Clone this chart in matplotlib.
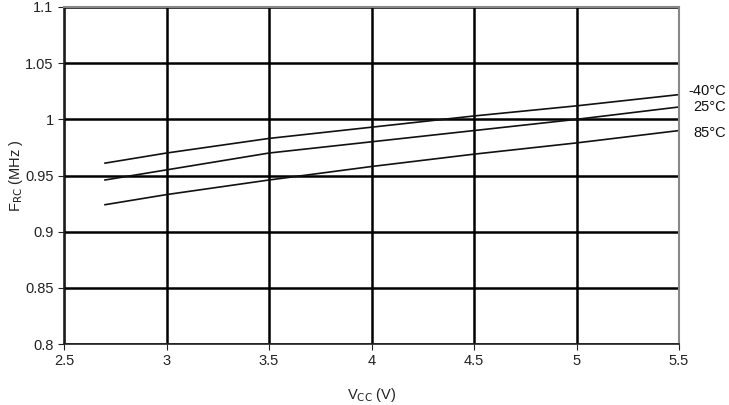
import matplotlib
matplotlib.use("Agg")
import matplotlib.pyplot as plt

plt.rcParams['font.family'] = ['Liberation Sans', 'DejaVu Sans']

vcc = [2.7, 3.0, 3.5, 4.0, 4.5, 5.0, 5.5]
f_m40 = [0.961, 0.970, 0.983, 0.993, 1.003, 1.012, 1.022]
f_25 = [0.946, 0.955, 0.970, 0.980, 0.990, 1.000, 1.011]
f_85 = [0.924, 0.933, 0.946, 0.958, 0.969, 0.979, 0.990]
labels = ["-40°C", "25°C", "85°C"]

fig = plt.figure(figsize=(7.29, 4.05), dpi=100)
ax = fig.add_axes([64 / 729, 1 - 344 / 405, (679 - 64) / 729, (344 - 7) / 405])

ax.set_xlim(2.5, 5.5)
ax.set_ylim(0.8, 1.1)
ax.set_xticks([2.5, 3, 3.5, 4, 4.5, 5, 5.5])
ax.set_xticklabels(["2.5", "3", "3.5", "4", "4.5", "5", "5.5"])
ax.set_yticks([0.8, 0.85, 0.9, 0.95, 1.0, 1.05, 1.1])
ax.set_yticklabels(["0.8", "0.85", "0.9", "0.95", "1", "1.05", "1.1"])
ax.grid(True, color="black", linewidth=1.8)
ax.set_axisbelow(True)

for s in ["top", "right"]:
    ax.spines[s].set_color("#888888")
    ax.spines[s].set_linewidth(1.5)
for s in ["left", "bottom"]:
    ax.spines[s].set_color("#222222")
    ax.spines[s].set_linewidth(1.2)

ax.tick_params(labelsize=10.5, length=4, color="#222222", labelcolor="#222222")

# curve labels, right-aligned just outside the plot
label_dy = [0.003, 0.0, -0.002]
for ys, lab, dy in zip([f_m40, f_25, f_85], labels, label_dy):
    ax.plot(vcc, ys, color="#111111", linewidth=1.2, clip_on=False)
    ax.annotate(lab, xy=(5.5, ys[-1] + dy), xycoords="data",
                xytext=(34, 0), textcoords="offset points",
                ha="right", va="center", fontsize=10.5, color="#111111",
                annotation_clip=False)

ax.set_xlabel("V$_{\\mathrm{CC}}$ (V)", fontsize=10.5, color="#222222")
ax.set_ylabel("F$_{\\mathrm{RC}}$ (MHz )", fontsize=10.5, color="#222222")
ax.xaxis.set_label_coords(0.5, -0.125)
ax.yaxis.set_label_coords(-0.063, 0.5)

fig.savefig("out.png", dpi=100)
